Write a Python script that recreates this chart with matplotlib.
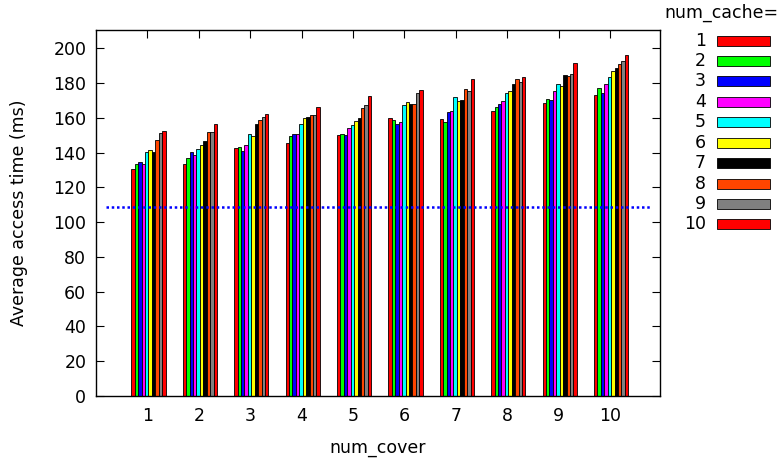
import matplotlib
matplotlib.use("Agg")
import matplotlib.pyplot as plt
from matplotlib.patches import Rectangle
import numpy as np

num_cover = [1, 2, 3, 4, 5, 6, 7, 8, 9, 10]
cache_labels = ["1", "2", "3", "4", "5", "6", "7", "8", "9", "10"]
colors = ["#ff0000", "#00ff00", "#0000ff", "#ff00ff", "#00ffff",
          "#ffff00", "#000000", "#ff4500", "#808080", "#ff0000"]

# rows: num_cover groups; columns: num_cache 1..10
access = [
    [130.5, 133.2, 134.5, 133.4, 140.1, 141.3, 140.3, 147.0, 151.0, 152.2],
    [133.2, 136.7, 140.1, 138.4, 141.8, 144.1, 146.4, 151.6, 151.6, 156.4],
    [142.4, 143.0, 141.0, 144.1, 150.5, 149.3, 156.2, 158.5, 160.3, 162.2],
    [145.7, 149.5, 150.7, 150.5, 156.2, 159.7, 160.3, 161.4, 161.4, 166.2],
    [149.9, 150.8, 149.9, 154.3, 155.7, 158.0, 159.7, 165.5, 167.2, 172.4],
    [159.7, 158.5, 156.2, 157.4, 167.2, 168.9, 167.8, 167.8, 174.1, 175.8],
    [159.1, 157.4, 163.2, 163.7, 171.8, 169.5, 170.1, 176.4, 175.2, 182.2],
    [163.7, 166.0, 167.8, 169.5, 174.1, 175.2, 179.3, 182.2, 180.4, 183.3],
    [168.7, 170.6, 170.1, 175.2, 179.3, 178.1, 184.5, 183.9, 185.0, 191.4],
    [172.9, 177.0, 174.1, 179.3, 183.3, 186.8, 188.5, 190.8, 192.5, 196.0],
]
baseline = 108.6

FS = 12.5
W, H = 779, 461
fig = plt.figure(figsize=(W / 100, H / 100), dpi=100)
ax = fig.add_axes([96 / W, (H - 396) / H, (660 - 96) / W, (396 - 30) / H])

data = np.array(access)
x = np.array(num_cover, dtype=float)
bw = 1 / 15
for j in range(len(cache_labels)):
    ax.bar(x + (j - 4.5) * bw + 0.02, data[:, j], width=bw, color=colors[j],
           edgecolor="black", linewidth=0.6, zorder=2)

ax.axhline(baseline, xmin=10 / 564, xmax=554 / 564, color="#0000ff",
           linestyle=(0, (1.0, 1.1)), linewidth=1.8, zorder=3)

ax.set_xlim(0, 10.97)
ax.set_ylim(0, 210.5)
ax.set_xticks(num_cover)
ax.set_xticklabels([str(v) for v in num_cover])
ax.set_yticks(range(0, 201, 20))
ax.tick_params(direction="in", length=6, width=0.8, top=True, right=True,
               labelsize=FS)
ax.tick_params(axis="x", pad=8)
ax.tick_params(axis="y", pad=7)
for s in ax.spines.values():
    s.set_linewidth(1)
ax.set_xlabel("num_cover", fontsize=FS, labelpad=10)
ax.set_ylabel("Average access time (ms)", fontsize=FS, labelpad=18)

# legend drawn at right
fig.text(664 / W, 1 - 13 / H, "num_cache=", fontsize=FS, ha="left", va="center")
for i, (lab, c) in enumerate(zip(cache_labels, colors)):
    yc = 40.7 + i * 20.4
    fig.text(706 / W, 1 - yc / H, lab, fontsize=FS, ha="right", va="center")
    fig.add_artist(Rectangle((717 / W, 1 - (yc + 5) / H), 53 / W, 10 / H,
                             transform=fig.transFigure, facecolor=c,
                             edgecolor="black", linewidth=0.6))

fig.savefig("out.png", dpi=100)
